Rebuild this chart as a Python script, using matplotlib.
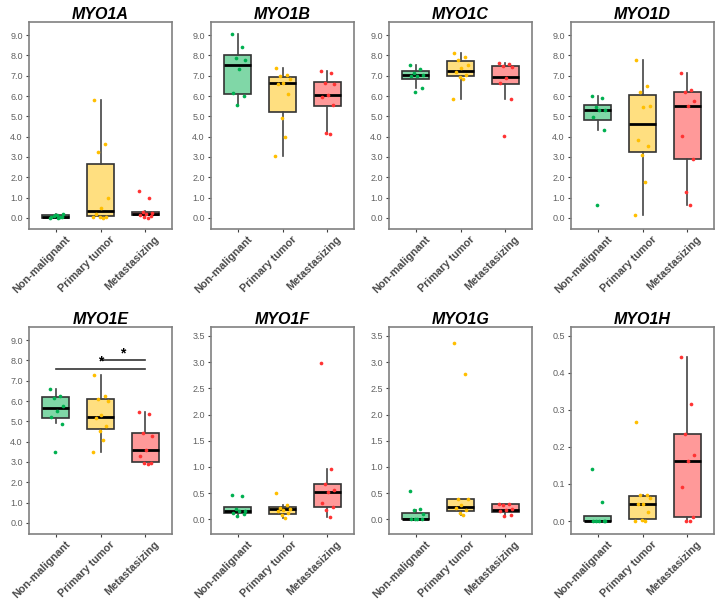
import numpy as np
import matplotlib
matplotlib.use("Agg")
import matplotlib.pyplot as plt
import matplotlib.transforms as mtransforms

plt.rcParams['font.family'] = ['Liberation Sans', 'DejaVu Sans']

# categorias e cores
grupos = ['Non-malignant', 'Primary tumor', 'Metastasizing']
cores_ponto = ['#00b050', '#ffbf00', '#ff3333']
cores_caixa = ['#80d7a7', '#ffdf80', '#ff9999']

genes = ['MYO1A', 'MYO1B', 'MYO1C', 'MYO1D', 'MYO1E', 'MYO1F', 'MYO1G', 'MYO1H']

# pontos
pontos = {
    'MYO1A': [[0.0, 0.05, 0.1, 0.18, 0.15, 0.05, 0.02, 0.12, 0.0],
              [5.82, 3.62, 3.22, 0.97, 0.47, 0.2, 0.05, 0.02, 0.0, 0.02],
              [1.33, 0.97, 0.3, 0.25, 0.2, 0.15, 0.1, 0.05, 0.0]],
    'MYO1B': [[9.07, 8.43, 7.87, 7.78, 7.32, 6.13, 6.0, 5.56],
              [7.4, 7.05, 6.97, 6.85, 6.65, 6.6, 6.08, 4.92, 4.0, 3.03],
              [7.25, 7.12, 6.62, 6.58, 6.05, 5.93, 5.55, 4.2, 4.12]],
    'MYO1C': [[7.55, 7.35, 7.15, 7.05, 7.0, 6.97, 6.38, 6.22],
              [8.1, 7.92, 7.8, 7.52, 7.38, 7.18, 7.02, 6.95, 6.82, 5.87],
              [7.62, 7.58, 7.48, 7.45, 6.9, 6.62, 5.87, 4.05]],
    'MYO1D': [[6.0, 5.92, 5.45, 5.32, 5.3, 4.98, 4.32, 0.62],
              [7.8, 6.52, 6.22, 5.5, 5.45, 3.82, 3.55, 3.12, 1.75, 0.12],
              [7.15, 6.3, 6.2, 5.78, 5.5, 4.03, 2.92, 1.28, 0.62]],
    'MYO1E': [[6.6, 6.25, 6.15, 5.78, 5.5, 5.22, 4.88, 3.48],
              [7.3, 6.25, 6.12, 6.0, 5.3, 5.18, 4.78, 4.55, 4.08, 3.48],
              [5.45, 5.38, 4.45, 4.28, 3.6, 3.28, 2.97, 2.93, 2.88]],
    'MYO1F': [[0.46, 0.45, 0.2, 0.16, 0.15, 0.12, 0.1, 0.06],
              [0.5, 0.27, 0.22, 0.2, 0.18, 0.15, 0.12, 0.08, 0.03],
              [2.98, 0.96, 0.67, 0.56, 0.52, 0.32, 0.23, 0.17, 0.05]],
    'MYO1G': [[0.55, 0.2, 0.18, 0.1, 0.0, 0.0, 0.0, 0.01],
              [3.37, 2.78, 0.39, 0.38, 0.28, 0.22, 0.18, 0.12, 0.09],
              [0.3, 0.29, 0.27, 0.2, 0.18, 0.15, 0.08, 0.07]],
    'MYO1H': [[0.14, 0.05, 0.0, 0.0, 0.0, 0.0, 0.0],
              [0.267, 0.07, 0.069, 0.062, 0.047, 0.045, 0.023, 0.003, 0.0, 0.0],
              [0.443, 0.315, 0.235, 0.178, 0.163, 0.092, 0.01, 0.0, 0.0]],
}

# caixas: (whisker baixo, q1, mediana, q3, whisker alto)
caixas = {
    'MYO1A': [(0.0, 0.0, 0.05, 0.13, 0.2), (0.0, 0.07, 0.35, 2.65, 5.82), (0.0, 0.12, 0.18, 0.31, 0.33)],
    'MYO1B': [(5.55, 6.1, 7.55, 8.0, 9.07), (3.03, 5.2, 6.62, 6.95, 7.4), (4.15, 5.52, 6.05, 6.67, 7.25)],
    'MYO1C': [(6.38, 6.82, 7.05, 7.22, 7.55), (5.87, 6.97, 7.25, 7.72, 8.1), (5.87, 6.6, 6.93, 7.48, 7.62)],
    'MYO1D': [(4.32, 4.82, 5.32, 5.55, 6.0), (0.12, 3.25, 4.62, 6.05, 7.8), (0.62, 2.9, 5.5, 6.22, 7.15)],
    'MYO1E': [(4.9, 5.15, 5.65, 6.2, 6.6), (3.48, 4.6, 5.22, 6.1, 7.3), (2.88, 3.02, 3.6, 4.45, 5.45)],
    'MYO1F': [(0.06, 0.13, 0.15, 0.24, 0.24), (0.03, 0.1, 0.19, 0.23, 0.27), (0.05, 0.23, 0.52, 0.67, 0.96)],
    'MYO1G': [(0.0, 0.0, 0.0, 0.12, 0.18), (0.09, 0.16, 0.24, 0.39, 0.39), (0.07, 0.14, 0.18, 0.29, 0.3)],
    'MYO1H': [(0.0, 0.0, 0.0, 0.013, 0.013), (0.0, 0.005, 0.046, 0.068, 0.07), (0.0, 0.01, 0.162, 0.235, 0.443)],
}

limites_y = {
    'MYO1A': (-0.55, 9.65), 'MYO1B': (-0.55, 9.65), 'MYO1C': (-0.55, 9.65), 'MYO1D': (-0.55, 9.65),
    'MYO1E': (-0.55, 9.65), 'MYO1F': (-0.28, 3.67), 'MYO1G': (-0.28, 3.67), 'MYO1H': (-0.035, 0.523),
}
ticks_y = {
    'MYO1A': np.arange(0, 9.1, 1.0), 'MYO1B': np.arange(0, 9.1, 1.0),
    'MYO1C': np.arange(0, 9.1, 1.0), 'MYO1D': np.arange(0, 9.1, 1.0),
    'MYO1E': np.arange(0, 9.1, 1.0), 'MYO1F': np.arange(0, 3.6, 0.5),
    'MYO1G': np.arange(0, 3.6, 0.5), 'MYO1H': np.arange(0, 0.51, 0.1),
}

# jitter fixo (so estetico)
jitter = np.array([-0.14, 0.09, -0.05, 0.16, 0.02, -0.11, 0.13, -0.02, 0.06, -0.16])

W, H = 722, 606
fig = plt.figure(figsize=(W / 100, H / 100), dpi=100)

lefts = [29, 211, 389, 571]
tops = [22, 327]
largura, altura = 143, 207

cinza = '#808080'
desloca = mtransforms.ScaledTranslation(9 / 100, -5 / 100, fig.dpi_scale_trans)

for i, gene in enumerate(genes):
    lin, col = divmod(i, 4)
    ax = fig.add_axes([lefts[col] / W, 1 - (tops[lin] + altura) / H, largura / W, altura / H])

    stats = []
    for k, (lo, q1, med, q3, hi) in enumerate(caixas[gene]):
        stats.append({'whislo': lo, 'q1': q1, 'med': med, 'q3': q3, 'whishi': hi, 'fliers': []})
    bp = ax.bxp(stats, positions=[1, 2, 3], widths=0.6, patch_artist=True,
                showfliers=False, showcaps=False,
                boxprops=dict(edgecolor='#333333', linewidth=1.2),
                medianprops=dict(color='black', linewidth=2),
                whiskerprops=dict(color='#444444', linewidth=1.2))
    for patch, c in zip(bp['boxes'], cores_caixa):
        patch.set_facecolor(c)

    for k, vals in enumerate(pontos[gene]):
        x = k + 1 + jitter[:len(vals)]
        ax.scatter(x, vals, s=7, color=cores_ponto[k], zorder=5, linewidths=0)

    ax.set_xlim(0.4, 3.6)
    ax.set_ylim(*limites_y[gene])
    ax.set_yticks(ticks_y[gene])
    ax.set_yticklabels(['%.1f' % v for v in ticks_y[gene]], fontsize=6.5, color='#606060')
    ax.set_xticks([1, 2, 3])
    ax.set_xticklabels([])
    # rotulos do eixo x escritos a mao para poder deslocar
    for k, g in enumerate(grupos):
        ax.text(k + 1, 0, g, transform=ax.get_xaxis_transform() + desloca,
                rotation=45, ha='right', va='top', rotation_mode='anchor',
                fontsize=7.8, fontweight='bold', color='#4a4a4a', clip_on=False)
    ax.tick_params(axis='both', length=2.5, width=0.8, color='#404040', pad=2)
    for s in ax.spines.values():
        s.set_color(cinza)
        s.set_linewidth(1.2)
    ax.set_title(gene, fontsize=11.5, fontweight='bold', fontstyle='italic', pad=2)

    # significancia no MYO1E
    if gene == 'MYO1E':
        ax.plot([1, 3], [7.6, 7.6], color='#333333', linewidth=1.2)
        ax.text(2, 7.6, '*', ha='center', va='bottom', fontsize=10, fontweight='bold')
        ax.plot([2, 3], [8.0, 8.0], color='#333333', linewidth=1.2)
        ax.text(2.5, 8.0, '*', ha='center', va='bottom', fontsize=10, fontweight='bold')

fig.savefig('out.png', dpi=100)
